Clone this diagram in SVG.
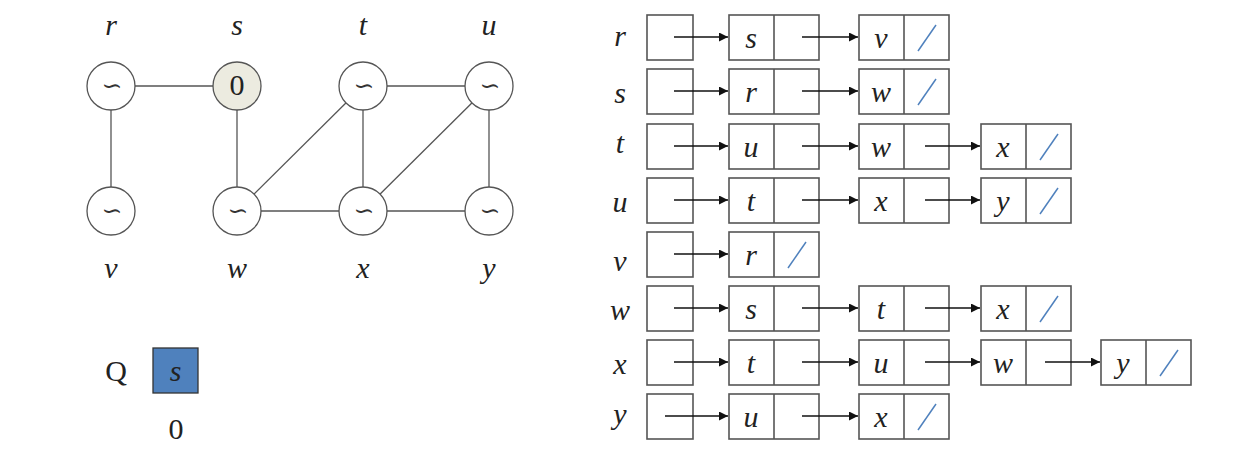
<svg xmlns="http://www.w3.org/2000/svg" width="1255" height="450" viewBox="0 0 1255 450">
<defs>
<style>
.lbl{font-family:"Times New Roman","Liberation Serif",serif;font-style:italic;font-size:30px;fill:#222;text-anchor:middle}
.cl{font-family:"Times New Roman","Liberation Serif",serif;font-style:italic;font-size:30px;fill:#222;text-anchor:middle}
.til{font-family:"DejaVu Serif",serif;font-size:25px;fill:#333;text-anchor:middle}
.num{font-family:"Times New Roman","Liberation Serif",serif;font-size:30px;fill:#222;text-anchor:middle}
.circ{fill:#fff;stroke:#555;stroke-width:1.3}
.edge{stroke:#555;stroke-width:1.3;fill:none}
.box{fill:#fff;stroke:#555;stroke-width:1.6}
.arr{stroke:#111;stroke-width:1.3;fill:none;marker-end:url(#ah)}
.nil{stroke:#4F81BD;stroke-width:1.5}
</style>
<marker id="ah" viewBox="0 0 10 10" refX="10" refY="5" markerWidth="10" markerHeight="9" markerUnits="userSpaceOnUse" orient="auto"><path d="M0,0 L10,5 L0,10 z" fill="#111"/></marker>
</defs>
<rect width="1255" height="450" fill="#fff"/>

<g id="graph-edges">
<line class="edge" x1="111" y1="86" x2="237" y2="86"/>
<line class="edge" x1="111" y1="86" x2="111" y2="211"/>
<line class="edge" x1="237" y1="86" x2="237" y2="211"/>
<line class="edge" x1="237" y1="211" x2="363" y2="86"/>
<line class="edge" x1="237" y1="211" x2="363" y2="211"/>
<line class="edge" x1="363" y1="86" x2="363" y2="211"/>
<line class="edge" x1="363" y1="86" x2="489" y2="86"/>
<line class="edge" x1="363" y1="211" x2="489" y2="86"/>
<line class="edge" x1="363" y1="211" x2="489" y2="211"/>
<line class="edge" x1="489" y1="86" x2="489" y2="211"/>
</g>

<g id="node-r"><text class="lbl" x="111" y="35">r</text><circle class="circ" cx="111" cy="86" r="24"/><text class="til" x="112" y="94">∽</text></g>
<g id="node-s"><text class="lbl" x="237" y="35">s</text><circle class="circ" cx="237" cy="86" r="24" style="fill:#ECEBE0"/><text class="num" x="237" y="95">0</text></g>
<g id="node-t"><text class="lbl" x="363" y="35">t</text><circle class="circ" cx="363" cy="86" r="24"/><text class="til" x="364" y="94">∽</text></g>
<g id="node-u"><text class="lbl" x="489" y="35">u</text><circle class="circ" cx="489" cy="86" r="24"/><text class="til" x="490" y="94">∽</text></g>
<g id="node-v"><circle class="circ" cx="111" cy="211" r="24"/><text class="til" x="112" y="219">∽</text><text class="lbl" x="111" y="278">v</text></g>
<g id="node-w"><circle class="circ" cx="237" cy="211" r="24"/><text class="til" x="238" y="219">∽</text><text class="lbl" x="237" y="278">w</text></g>
<g id="node-x"><circle class="circ" cx="363" cy="211" r="24"/><text class="til" x="364" y="219">∽</text><text class="lbl" x="363" y="278">x</text></g>
<g id="node-y"><circle class="circ" cx="489" cy="211" r="24"/><text class="til" x="490" y="219">∽</text><text class="lbl" x="489" y="278">y</text></g>

<g id="queue">
<text class="num" x="116" y="381">Q</text>
<rect x="153" y="348" width="45" height="45" fill="#4F81BD" stroke="#333" stroke-width="1.3"/>
<text class="cl" x="175.5" y="381">s</text>
<text class="num" x="176" y="439">0</text>
</g>

<g id="adj-labels">
<text class="lbl" x="620" y="46">r</text>
<text class="lbl" x="620" y="103">s</text>
<text class="lbl" x="620" y="153">t</text>
<text class="lbl" x="620" y="212">u</text>
<text class="lbl" x="620" y="271">v</text>
<text class="lbl" x="620" y="320">w</text>
<text class="lbl" x="620" y="374">x</text>
<text class="lbl" x="620" y="424">y</text>
</g>

<g id="heads">
<rect class="box" x="647" y="15" width="46" height="45"/>
<rect class="box" x="647" y="69" width="46" height="45"/>
<rect class="box" x="647" y="124" width="46" height="45"/>
<rect class="box" x="647" y="178" width="46" height="45"/>
<rect class="box" x="647" y="232" width="46" height="45"/>
<rect class="box" x="647" y="286" width="46" height="45"/>
<rect class="box" x="647" y="340" width="46" height="45"/>
<rect class="box" x="647" y="394" width="46" height="45"/>
</g>

<g id="list-r">
<rect class="box" x="729" y="15" width="90" height="45"/><line class="box" x1="774" y1="15" x2="774" y2="60"/><text class="cl" x="751" y="48">s</text>
<rect class="box" x="859" y="15" width="90" height="45"/><line class="box" x1="904" y1="15" x2="904" y2="60"/><text class="cl" x="881" y="48">v</text>
<line class="nil" x1="918" y1="51" x2="936" y2="25"/>
</g>
<g id="list-s">
<rect class="box" x="729" y="69" width="90" height="45"/><line class="box" x1="774" y1="69" x2="774" y2="114"/><text class="cl" x="751" y="102">r</text>
<rect class="box" x="859" y="69" width="90" height="45"/><line class="box" x1="904" y1="69" x2="904" y2="114"/><text class="cl" x="881" y="102">w</text>
<line class="nil" x1="918" y1="105" x2="936" y2="79"/>
</g>
<g id="list-t">
<rect class="box" x="729" y="124" width="90" height="45"/><line class="box" x1="774" y1="124" x2="774" y2="169"/><text class="cl" x="751" y="157">u</text>
<rect class="box" x="859" y="124" width="90" height="45"/><line class="box" x1="904" y1="124" x2="904" y2="169"/><text class="cl" x="881" y="157">w</text>
<rect class="box" x="981" y="124" width="90" height="45"/><line class="box" x1="1026" y1="124" x2="1026" y2="169"/><text class="cl" x="1003" y="157">x</text>
<line class="nil" x1="1040" y1="160" x2="1058" y2="134"/>
</g>
<g id="list-u">
<rect class="box" x="729" y="178" width="90" height="45"/><line class="box" x1="774" y1="178" x2="774" y2="223"/><text class="cl" x="751" y="211">t</text>
<rect class="box" x="859" y="178" width="90" height="45"/><line class="box" x1="904" y1="178" x2="904" y2="223"/><text class="cl" x="881" y="211">x</text>
<rect class="box" x="981" y="178" width="90" height="45"/><line class="box" x1="1026" y1="178" x2="1026" y2="223"/><text class="cl" x="1003" y="211">y</text>
<line class="nil" x1="1040" y1="214" x2="1058" y2="188"/>
</g>
<g id="list-v">
<rect class="box" x="729" y="232" width="90" height="45"/><line class="box" x1="774" y1="232" x2="774" y2="277"/><text class="cl" x="751" y="265">r</text>
<line class="nil" x1="788" y1="268" x2="806" y2="242"/>
</g>
<g id="list-w">
<rect class="box" x="729" y="286" width="90" height="45"/><line class="box" x1="774" y1="286" x2="774" y2="331"/><text class="cl" x="751" y="319">s</text>
<rect class="box" x="859" y="286" width="90" height="45"/><line class="box" x1="904" y1="286" x2="904" y2="331"/><text class="cl" x="881" y="319">t</text>
<rect class="box" x="981" y="286" width="90" height="45"/><line class="box" x1="1026" y1="286" x2="1026" y2="331"/><text class="cl" x="1003" y="319">x</text>
<line class="nil" x1="1040" y1="322" x2="1058" y2="296"/>
</g>
<g id="list-x">
<rect class="box" x="729" y="340" width="90" height="45"/><line class="box" x1="774" y1="340" x2="774" y2="385"/><text class="cl" x="751" y="373">t</text>
<rect class="box" x="859" y="340" width="90" height="45"/><line class="box" x1="904" y1="340" x2="904" y2="385"/><text class="cl" x="881" y="373">u</text>
<rect class="box" x="981" y="340" width="90" height="45"/><line class="box" x1="1026" y1="340" x2="1026" y2="385"/><text class="cl" x="1003" y="373">w</text>
<rect class="box" x="1101" y="340" width="90" height="45"/><line class="box" x1="1146" y1="340" x2="1146" y2="385"/><text class="cl" x="1123" y="373">y</text>
<line class="nil" x1="1160" y1="376" x2="1178" y2="350"/>
</g>
<g id="list-y">
<rect class="box" x="729" y="394" width="90" height="45"/><line class="box" x1="774" y1="394" x2="774" y2="439"/><text class="cl" x="751" y="427">u</text>
<rect class="box" x="859" y="394" width="90" height="45"/><line class="box" x1="904" y1="394" x2="904" y2="439"/><text class="cl" x="881" y="427">x</text>
<line class="nil" x1="918" y1="430" x2="936" y2="404"/>
</g>

<g id="connectors">
<line class="arr" x1="674" y1="37" x2="728" y2="37"/>
<line class="arr" x1="802" y1="37" x2="858" y2="37"/>
<line class="arr" x1="674" y1="91" x2="728" y2="91"/>
<line class="arr" x1="802" y1="91" x2="858" y2="91"/>
<line class="arr" x1="674" y1="146" x2="728" y2="146"/>
<line class="arr" x1="802" y1="146" x2="858" y2="146"/>
<line class="arr" x1="925" y1="146" x2="980" y2="146"/>
<line class="arr" x1="674" y1="200" x2="728" y2="200"/>
<line class="arr" x1="802" y1="200" x2="858" y2="200"/>
<line class="arr" x1="925" y1="200" x2="980" y2="200"/>
<line class="arr" x1="674" y1="254" x2="728" y2="254"/>
<line class="arr" x1="674" y1="308" x2="728" y2="308"/>
<line class="arr" x1="802" y1="308" x2="858" y2="308"/>
<line class="arr" x1="925" y1="308" x2="980" y2="308"/>
<line class="arr" x1="674" y1="362" x2="728" y2="362"/>
<line class="arr" x1="802" y1="362" x2="858" y2="362"/>
<line class="arr" x1="925" y1="362" x2="980" y2="362"/>
<line class="arr" x1="1045" y1="362" x2="1100" y2="362"/>
<line class="arr" x1="665" y1="416" x2="728" y2="416"/>
<line class="arr" x1="802" y1="416" x2="858" y2="416"/>
</g>
</svg>
